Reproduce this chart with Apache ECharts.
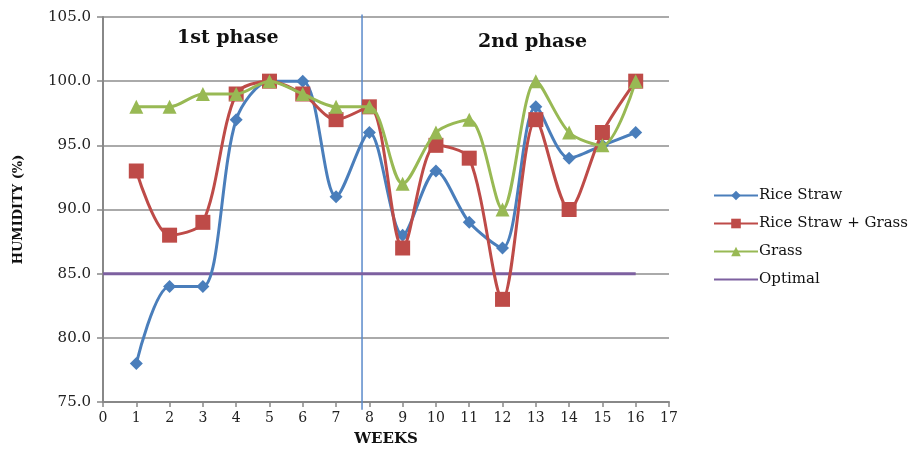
<!DOCTYPE html>
<html><head><meta charset="utf-8">
<script src="https://cdn.jsdelivr.net/npm/echarts@6/dist/echarts.min.js"></script>
<style>html,body{margin:0;padding:0;background:#fff}#c{width:924px;height:457px}</style>
</head><body><div id="c"></div>
<script>
const weeks = [1,2,3,4,5,6,7,8,9,10,11,12,13,14,15,16];
const riceStraw = [78,84,84,97,100,100,91,96,88,93,89,87,98,94,95,96];
const riceStrawGrass = [93,88,89,99,100,99,97,98,87,95,94,83,97,90,96,100];
const grass = [98,98,99,99,100,99,98,98,92,96,97,90,100,96,95,100];
const optimalX = [0,16];
const optimalY = [85,85];
const phaseX = 7.78;
const phaseLabels = ['1st phase','2nd phase'];

const font = '"DejaVu Serif", "Liberation Serif", serif';
const pair = (xs, ys) => xs.map((x,i)=>[x, ys[i]]);

const chart = echarts.init(document.getElementById('c'));
chart.setOption({
  animation:false,
  textStyle:{fontFamily:font},
  grid:{left:103,right:255,top:17,bottom:55,containLabel:false},
  xAxis:{type:'value',min:0,max:17,interval:1,
    name:'WEEKS',nameLocation:'middle',nameGap:30,
    nameTextStyle:{fontFamily:font,fontWeight:'bold',fontSize:15,color:'#111'},
    axisLine:{lineStyle:{color:'#888',width:2}},
    axisTick:{show:true,length:5,lineStyle:{color:'#888',width:1.5}},
    axisLabel:{fontFamily:font,fontSize:14,color:'#222',margin:9},
    splitLine:{show:false}},
  yAxis:{type:'value',min:75,max:105,interval:5,
    name:'HUMIDITY (%)',nameLocation:'middle',nameGap:78,
    nameTextStyle:{fontFamily:font,fontWeight:'bold',fontSize:13,color:'#111'},
    axisLine:{show:true,lineStyle:{color:'#888',width:2}},
    axisTick:{show:true,length:6,lineStyle:{color:'#888',width:1.5}},
    axisLabel:{fontFamily:font,fontSize:15,color:'#222',margin:12,formatter:v=>v.toFixed(1)},
    splitLine:{show:true,lineStyle:{color:'#aaa',width:2}}},
  legend:{orient:'vertical',left:708,top:183,itemGap:13,itemWidth:44,itemHeight:12,
    textStyle:{fontFamily:font,fontSize:15,color:'#111',padding:[0,0,0,-4]},
    data:['Rice Straw','Rice Straw + Grass','Grass',{name:'Optimal',itemStyle:{opacity:0}}]},
  series:[
    {name:'Optimal',type:'line',data:pair(optimalX,optimalY),symbol:'none',
      lineStyle:{color:'#7D60A0',width:3},itemStyle:{color:'#7D60A0'},z:2},
    {name:'phase',type:'line',data:[[phaseX,74.4],[phaseX,105.2]],symbol:'none',clip:false,
      lineStyle:{color:'#5B8ACB',width:1.5},silent:true,z:1},
    {name:'Rice Straw',type:'line',smooth:0.3,data:pair(weeks,riceStraw),symbol:'diamond',symbolSize:13,
      lineStyle:{color:'#4A7EBB',width:3},itemStyle:{color:'#4A7EBB'},z:3},
    {name:'Rice Straw + Grass',type:'line',smooth:0.3,data:pair(weeks,riceStrawGrass),symbol:'rect',symbolSize:15,
      lineStyle:{color:'#BE4B48',width:3},itemStyle:{color:'#BE4B48'},z:4},
    {name:'Grass',type:'line',smooth:0.3,data:pair(weeks,grass),symbol:'triangle',symbolSize:14,
      lineStyle:{color:'#98B954',width:3},itemStyle:{color:'#98B954'},z:5}
  ],
  graphic:[
    {type:'text',left:177,top:29,style:{text:phaseLabels[0],font:'bold 19px '+font,fill:'#111'}},
    {type:'text',left:478,top:33,style:{text:phaseLabels[1],font:'bold 19px '+font,fill:'#111'}}
  ]
});
</script></body></html>
